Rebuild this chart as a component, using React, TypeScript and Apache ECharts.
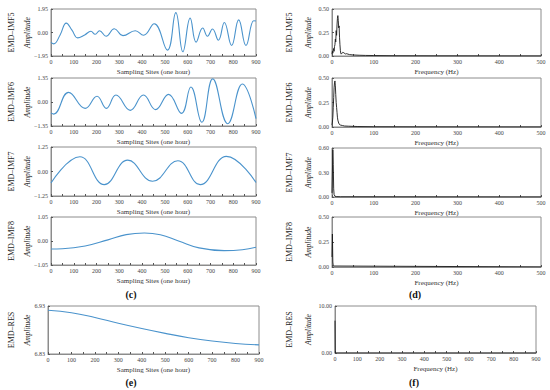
import React, { useEffect, useRef } from "react";
import * as echarts from "echarts";

// ---- Data ----
const imf5: number[][] = [[0,-0.82],[12,-0.94],[40,-0.2],[67,0.78],[92,0.2],[117,-0.45],[148,-0.2],[175,0.1],[194,-0.15],[213,0.15],[242,-0.31],[278,0.31],[316,-0.26],[370,0.15],[406,-0.23],[453,0.72],[511,-1.46],[548,1.65],[579,-1.6],[611,1.19],[637,-0.8],[666,0.37],[687,-0.31],[709,0.29],[735,-0.64],[761,0.83],[793,-1.08],[824,1.05],[856,-1.08],[890,0.98],[900,0.95]];
const imf6: number[][] = [[0,-0.62],[12,-0.68],[77,0.54],[150,-0.36],[202,0.32],[243,-0.36],[285,0.39],[348,-0.47],[406,0.39],[459,-0.43],[516,0.43],[573,-0.64],[614,0.84],[662,-1.14],[710,1.3],[776,-1.22],[840,1.01],[900,-0.94]];
const imf7: number[][] = [[0,-0.59],[127,0.75],[234,-0.67],[337,0.58],[446,-0.5],[557,0.55],[655,-0.67],[770,0.77],[900,-0.56]];
const imf8: number[][] = [[0,-0.35],[50,-0.34],[150,-0.22],[250,0.05],[330,0.28],[410,0.35],[480,0.27],[560,0.0],[650,-0.3],[760,-0.42],[840,-0.38],[900,-0.27]];
const res: number[][] = [[0,6.921],[100,6.916],[200,6.906],[300,6.894],[400,6.883],[500,6.873],[600,6.864],[700,6.857],[800,6.852],[900,6.849]];

const spec5: number[][] = [[0,0.02],[1,0.05],[2,0.03],[3,0.06],[4,0.08],[5,0.05],[6,0.1],[7,0.12],[8,0.18],[9,0.15],[10,0.27],[11,0.22],[12,0.33],[13,0.4],[14,0.43],[15,0.38],[16,0.3],[17,0.32],[18,0.2],[19,0.12],[20,0.06],[21,0.03],[22,0.02],[24,0.03],[26,0.04],[28,0.035],[30,0.03],[32,0.02],[35,0.025],[38,0.02],[42,0.015],[48,0.012],[55,0.01],[65,0.008],[80,0.006],[100,0.005],[150,0.003],[250,0.002],[500,0.001]];
const spec6: number[][] = [[0,0.02],[1,0.05],[2,0.1],[3,0.2],[4,0.3],[5,0.4],[6,0.45],[7,0.47],[8,0.42],[9,0.33],[10,0.25],[11,0.2],[12,0.15],[13,0.1],[14,0.07],[16,0.04],[18,0.025],[20,0.02],[25,0.015],[30,0.01],[40,0.008],[60,0.005],[100,0.003],[200,0.002],[500,0.001]];
const spec7: number[][] = [[0,0.05],[1,0.3],[2,0.58],[3,0.4],[4,0.1],[5,0.03],[7,0.01],[10,0.005],[20,0.003],[500,0.001]];
const spec8: number[][] = [[0,0.1],[1,0.33],[2,0.05],[3,0.01],[500,0.001]];
const specRes: number[][] = [[0,6.88],[1,0.0],[900,0.0]];

const leftNames = ["EMD\u2013IMF5", "EMD\u2013IMF6", "EMD\u2013IMF7", "EMD\u2013IMF8", "EMD\u2013RES"];
const leftYTicks = [[-1.95, 0, 1.95], [-1.35, 0, 1.35], [-1.25, 0, 1.25], [-1.05, 0, 1.05], [6.83, 6.93]];
const rightYTicks = [[0, 0.25, 0.5], [0, 0.25, 0.5], [0, 0.3, 0.6], [0, 0.25, 0.5], [0, 10]];
const leftXMax = 900;
const rightXMax = [500, 500, 500, 500, 900];
const xTitleLeft = "Sampling Sites (one hour)";
const xTitleRight = "Frequency (Hz)";
const panelLetters = ["(c)", "(d)", "(e)", "(f)"];

const FONT = "'Liberation Serif', 'DejaVu Serif', serif";
const LINE_BLUE = "#4a93cc";
const FRAME = "#8c8c8c";

const fmt = (v: number) => (v < 0 ? "\u2212" + Math.abs(v).toFixed(2) : v.toFixed(2));

export default function App() {
  const ref = useRef<HTMLDivElement>(null);
  useEffect(() => {
    if (!ref.current) return;
    const chart = echarts.init(ref.current, undefined, { renderer: "svg" });

    const leftGrids = [
      { left: 51, width: 205, top: 9, height: 47 },
      { left: 51, width: 205, top: 78, height: 48 },
      { left: 51, width: 205, top: 147, height: 49 },
      { left: 51, width: 205, top: 217, height: 48 },
      { left: 48, width: 211, top: 306, height: 48 },
    ];
    const rightGrids = [
      { left: 332, width: 209, top: 9, height: 47 },
      { left: 332, width: 209, top: 78, height: 49 },
      { left: 332, width: 209, top: 148, height: 49 },
      { left: 332, width: 209, top: 217, height: 50 },
      { left: 335, width: 201, top: 306, height: 47 },
    ];
    const grids = [...leftGrids, ...rightGrids].map((g) => ({
      ...g,
      show: true,
      borderColor: FRAME,
      borderWidth: 1,
      backgroundColor: "transparent",
      containLabel: false,
    }));

    const leftData = [imf5, imf6, imf7, imf8, res];
    const rightData = [spec5, spec6, spec7, spec8, specRes];

    const xAxes: any[] = [];
    const yAxes: any[] = [];
    const series: any[] = [];
    const graphics: any[] = [];

    const mkX = (i: number, max: number, title: string) => ({
      type: "value",
      gridIndex: i,
      min: 0,
      max,
      interval: 100,
      name: title,
      nameLocation: "middle",
      nameGap: 12,
      nameTextStyle: { fontFamily: FONT, fontSize: 7, color: "#333" },
      axisLine: { show: true, onZero: false, lineStyle: { color: FRAME, width: 1 } },
      axisTick: { show: true, inside: true, length: 2, lineStyle: { color: "#555" } },
      minorTick: { show: true, splitNumber: 2, length: 2, lineStyle: { color: "#555" } },
      axisLabel: { fontFamily: FONT, fontSize: 6, color: "#444", margin: 3 },
      splitLine: { show: false },
    });
    const mkY = (i: number, ticks: number[], fixed: boolean) => ({
      type: "value",
      gridIndex: i,
      min: ticks[0],
      max: ticks[ticks.length - 1],
      axisLine: { show: true, onZero: false, lineStyle: { color: FRAME, width: 1 } },
      axisTick: { show: true, inside: true, length: 2, customValues: ticks, lineStyle: { color: "#555" } },
      axisLabel: {
        fontFamily: FONT,
        fontSize: 6,
        color: "#444",
        margin: 3,
        customValues: ticks,
        formatter: (v: number) => fmt(v),
      },
      splitLine: { show: false },
      scale: !fixed,
    });

    for (let k = 0; k < 5; k++) {
      const i = k;
      xAxes.push(mkX(i, leftXMax, xTitleLeft));
      yAxes.push(mkY(i, leftYTicks[k], false));
      series.push({
        type: "line",
        xAxisIndex: i,
        yAxisIndex: i,
        data: leftData[k],
        smooth: 0.45,
        showSymbol: false,
        lineStyle: { color: LINE_BLUE, width: 1.1 },
      });
      const g = leftGrids[k];
      const cy = g.top + g.height / 2;
      graphics.push({
        type: "text",
        x: 11,
        y: cy,
        rotation: Math.PI / 2,
        style: { text: leftNames[k], font: `8px ${FONT}`, fill: "#222", textAlign: "center", textVerticalAlign: "middle" },
      });
      graphics.push({
        type: "text",
        x: 27,
        y: cy,
        rotation: Math.PI / 2,
        style: { text: "Amplitude", font: `italic 7.5px ${FONT}`, fill: "#222", textAlign: "center", textVerticalAlign: "middle" },
      });
    }
    for (let k = 0; k < 5; k++) {
      const i = k + 5;
      xAxes.push(mkX(i, rightXMax[k], xTitleRight));
      yAxes.push(mkY(i, rightYTicks[k], true));
      series.push({
        type: "line",
        xAxisIndex: i,
        yAxisIndex: i,
        data: rightData[k],
        showSymbol: false,
        lineStyle: { color: "#1a1a1a", width: 0.9 },
      });
      const g = rightGrids[k];
      const cy = g.top + g.height / 2;
      graphics.push({
        type: "text",
        x: 289,
        y: cy,
        rotation: Math.PI / 2,
        style: { text: leftNames[k], font: `8px ${FONT}`, fill: "#222", textAlign: "center", textVerticalAlign: "middle" },
      });
      graphics.push({
        type: "text",
        x: 308,
        y: cy,
        rotation: Math.PI / 2,
        style: { text: "Amplitude", font: `italic 7.5px ${FONT}`, fill: "#222", textAlign: "center", textVerticalAlign: "middle" },
      });
    }
    const letterPos = [[131, 294], [415, 294], [131, 382], [414, 382]];
    panelLetters.forEach((t, j) => {
      graphics.push({
        type: "text",
        x: letterPos[j][0],
        y: letterPos[j][1],
        style: { text: t, font: `bold 10px ${FONT}`, fill: "#111", textAlign: "center", textVerticalAlign: "middle" },
      });
    });

    chart.setOption({
      animation: false,
      backgroundColor: "#ffffff",
      grid: grids,
      xAxis: xAxes,
      yAxis: yAxes,
      series,
      graphic: graphics,
    });
    return () => chart.dispose();
  }, []);
  return <div ref={ref} style={{ position: "absolute", left: 0, top: 0, width: 550, height: 390 }} />;
}
